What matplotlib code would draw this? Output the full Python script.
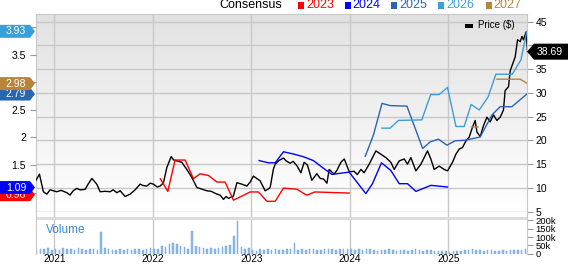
import numpy as np
import matplotlib
matplotlib.use("Agg")
from matplotlib import pyplot as plt
from matplotlib.patches import Polygon, Rectangle

plt.rcParams['font.family'] = ['Liberation Sans', 'DejaVu Sans']

# ---- data (fractional years) ----
price_t = [2020.804, 2020.848, 2020.888, 2020.923, 2020.956, 2021.024, 2021.068, 2021.126, 2021.159, 2021.19,
           2021.227, 2021.261, 2021.312, 2021.342, 2021.380, 2021.430, 2021.464, 2021.515, 2021.565, 2021.596,
           2021.634, 2021.667, 2021.718, 2021.768, 2021.819, 2021.870, 2021.90, 2021.938, 2021.972, 2022.005,
           2022.043, 2022.073, 2022.107, 2022.141, 2022.185, 2022.21, 2022.243, 2022.293, 2022.344, 2022.395,
           2022.446, 2022.489, 2022.547, 2022.591, 2022.649, 2022.682, 2022.716, 2022.743, 2022.767, 2022.817,
           2022.852, 2022.902, 2022.953, 2022.986, 2023.020, 2023.053, 2023.088, 2023.139, 2023.173, 2023.190,
           2023.223, 2023.241, 2023.28, 2023.325, 2023.352, 2023.393, 2023.423, 2023.461, 2023.502, 2023.535,
           2023.569, 2023.613, 2023.664, 2023.698, 2023.731, 2023.766, 2023.789, 2023.840, 2023.87, 2023.908,
           2023.942, 2023.993, 2024.043, 2024.074, 2024.111, 2024.144, 2024.195, 2024.263, 2024.314, 2024.364,
           2024.415, 2024.449, 2024.500, 2024.551, 2024.584, 2024.618, 2024.669, 2024.720, 2024.753, 2024.787,
           2024.821, 2024.855, 2024.905, 2024.956, 2024.990, 2025.041, 2025.075, 2025.109, 2025.142, 2025.177,
           2025.210, 2025.244, 2025.271, 2025.288, 2025.322, 2025.355, 2025.390, 2025.423, 2025.457, 2025.491,
           2025.525, 2025.558, 2025.575, 2025.609, 2025.627, 2025.677, 2025.701, 2025.728, 2025.746, 2025.762,
           2025.789, 2025.802]
price = [11.3, 12.9, 9.2, 8.7, 9.6, 9.2, 9.5, 9.0, 8.5, 9.4,
         9.9, 9.6, 9.7, 10.8, 12.0, 10.8, 9.2, 9.3, 9.2, 9.6,
         9.0, 9.4, 8.2, 8.7, 9.6, 10.8, 10.5, 10.4, 11.0, 10.8,
         10.2, 10.4, 11.1, 14.3, 16.6, 15.9, 15.7, 15.4, 13.9, 12.2,
         10.1, 9.8, 9.4, 9.3, 8.7, 8.5, 7.6, 8.2, 7.8, 8.3,
         11.1, 10.8, 10.4, 11.2, 12.5, 12.0, 11.5, 9.4, 9.8, 10.1,
         14.0, 15.0, 15.8, 16.3, 15.7, 15.2, 15.6, 14.7, 13.2, 15.4,
         14.8, 11.6, 13.0, 12.0, 11.9, 11.0, 13.9, 12.9, 13.8, 15.4,
         16.1, 13.4, 13.5, 12.8, 13.9, 13.2, 15.0, 17.8, 17.1, 16.4,
         15.4, 13.9, 15.7, 16.1, 15.0, 16.4, 13.6, 15.0, 16.4, 17.8,
         16.1, 13.9, 14.6, 13.9, 13.6, 15.4, 17.1, 18.2, 18.5, 19.9,
         20.7, 22.8, 24.2, 21.8, 20.8, 23.1, 24.9, 23.9, 25.4, 24.2,
         24.9, 26.4, 30.5, 31.3, 34.7, 37.6, 41.2, 40.8, 41.9, 41.2,
         42.9, 38.69]

eps23_t = [2022.075, 2022.151, 2022.225, 2022.327, 2022.411, 2022.479, 2022.563, 2022.649, 2022.733, 2022.817,
           2022.987, 2023.071, 2023.156, 2023.241, 2023.325, 2023.461, 2023.562, 2023.642, 2023.992]
eps23 = [1.25, 1.02, 1.59, 1.59, 1.25, 1.34, 1.31, 1.19, 1.19, 0.86,
         1.01, 1.01, 0.84, 0.84, 1.08, 1.06, 0.95, 1.01, 0.99]

eps24_t = [2023.078, 2023.173, 2023.241, 2023.325, 2023.426, 2023.528, 2023.629, 2023.731, 2023.816, 2023.992,
           2024.161, 2024.228, 2024.320, 2024.415, 2024.500, 2024.584, 2024.669, 2024.821, 2024.990]
eps24 = [1.58, 1.54, 1.54, 1.74, 1.70, 1.65, 1.58, 1.44, 1.33, 1.37,
         0.98, 1.16, 1.54, 1.40, 1.16, 1.16, 1.02, 1.13, 1.10]

eps25_t = [2024.156, 2024.239, 2024.325, 2024.408, 2024.578, 2024.738, 2024.814, 2024.898, 2024.984, 2025.068,
           2025.170, 2025.322, 2025.441, 2025.525, 2025.644, 2025.796]
eps25 = [1.66, 2.05, 2.62, 2.58, 2.57, 1.80, 1.92, 1.97, 1.86, 1.94,
         1.95, 2.01, 2.41, 2.56, 2.56, 2.79]

eps26_t = [2024.325, 2024.408, 2024.492, 2024.729, 2024.819, 2024.906, 2024.990, 2025.076, 2025.159, 2025.230,
           2025.312, 2025.403, 2025.481, 2025.647, 2025.735, 2025.796]
eps26 = [2.17, 2.17, 2.31, 2.32, 2.78, 2.78, 2.91, 2.20, 2.20, 2.60,
         2.50, 2.74, 3.15, 3.15, 3.41, 3.93]

eps27_t = [2025.233, 2025.300, 2025.301, 2025.491, 2025.728, 2025.802]
eps27 = [2.19, 2.19, np.nan, 3.06, 3.06, 2.98]

# volume in thousands, every two weeks
vol_start = 2020.82
vol = [22, 28, 30, 35, 25,
       28, 22, 35, 26, 30, 24, 33, 28, 22, 30, 26, 24, 128, 32, 26, 24, 22, 28, 24, 26, 22, 28, 30, 24, 30, 34,
       26, 30, 44, 42, 56, 62, 58, 48, 38, 30, 136, 48, 38, 32, 30, 34, 28, 32, 40, 46, 52, 106, 198, 40, 28, 32,
       24, 18, 26, 22, 28, 20, 30, 24, 22, 28, 26, 62, 24, 28, 22, 26, 30, 24, 22, 28, 26, 30, 24, 28, 26, 30,
       28, 24, 30, 22, 26, 30, 22, 18, 24, 20, 26, 22, 18, 24, 20, 16, 22, 26, 20, 18, 22, 20, 18, 16, 18, 16,
       10, 14, 16, 18, 20, 24, 28, 22, 20, 18, 22, 20, 16, 18, 20, 18, 22, 20, 24, 22, 26]
vol_t = vol_start + np.arange(len(vol)) / 26.0

years = [2021, 2022, 2023, 2024, 2025]
legend_years = ["2023", "2024", "2025", "2026", "2027"]
colors = ["#ff0000", "#0000ff", "#2a64b4", "#3a9fd6", "#b8843a"]
last_eps = ["0.96", "1.09", "2.79", "3.93", "2.98"]
last_price = "38.69"

# ---- layout ----
W, H = 568, 264
fig = plt.figure(figsize=(W / 100, H / 100), dpi=100)


def fx(px):
    return px / W


def fy(py):
    return 1 - py / H


L, R = 35.7, 527.3
ax = fig.add_axes([fx(L), fy(211.7), fx(R) - fx(L), fy(14) - fy(211.7)])
axv = fig.add_axes([fx(L), fy(253.7), fx(R) - fx(L), fy(211.7) - fy(253.7)])
xlim = (2020.81, 2025.80)

# gradient background
grad = np.linspace(0.885, 1.0, 200)[:, None, None] * np.ones((1, 1, 3))
ax.imshow(grad, extent=[0, 1, 0, 1], transform=ax.transAxes, aspect='auto', zorder=0)

grid_c = "#c8c8c8"
ax.set_xlim(xlim)
ax.set_ylim(5, 46.62)
ax.set_xticks(years)
ax.set_xticklabels([])
ax.set_yticks([5, 10, 15, 20, 25, 30, 35, 40, 45])
# "40" sits under the price tag in the original
ax.set_yticklabels(["5", "10", "15", "20", "25", "30", "35", "", "45"])
ax.grid(True, color=grid_c, lw=1)
ax.set_axisbelow(True)
for s in ax.spines.values():
    s.set_color(grid_c)
ax.plot(price_t, price, color='black', lw=1.0, zorder=3)

axe = ax.twinx()
axe.set_ylim(0.651, 4.245)
axe.set_xlim(xlim)
axe.set_yticks([1, 1.5, 2, 2.5, 3, 3.5, 4])
# 1, 3 and 4 are covered by the value tags
axe.set_yticklabels(["", "1.5", "2", "2.5", "", "3.5", ""])
for s in axe.spines.values():
    s.set_visible(False)
for tt, vv, c in zip([eps23_t, eps24_t, eps25_t, eps26_t, eps27_t],
                     [eps23, eps24, eps25, eps26, eps27], colors):
    axe.plot(tt, vv, color=c, lw=1.0)

# price ticks on the right, EPS ticks on the left
ax.yaxis.tick_right()
axe.yaxis.tick_left()
ax.tick_params(axis='x', length=0)
ax.tick_params(axis='y', length=4, width=0.8, color='#999999', labelsize=7.5, pad=2)
axe.tick_params(axis='y', length=4, width=0.8, color='#999999', labelsize=7.5, pad=3)

# volume panel
axv.bar(vol_t, np.array(vol) * 1000, width=0.016, color='#8fbbe6', edgecolor='#6fa3da', lw=0.3)
axv.set_xlim(xlim)
axv.set_ylim(0, 252000)
axv.set_xticks(years)
axv.set_xticklabels([str(y) for y in years], fontsize=7.2)
axv.grid(True, axis='x', color=grid_c, lw=1)
axv.set_axisbelow(True)
axv.axhline(216000, color='#dcdcdc', lw=2.2)
axv.yaxis.tick_right()
axv.set_yticks([0, 50000, 100000, 150000, 200000])
axv.set_yticklabels(["0", "50k", "100k", "150k", "200k"])
axv.tick_params(axis='y', length=4, width=0.8, color='#999999', labelsize=6.8, pad=2)
axv.tick_params(axis='x', length=0, pad=0.5)
for s in axv.spines.values():
    s.set_color(grid_c)
axv.spines['top'].set_visible(False)
axv.spines['bottom'].set_visible(False)
axv.text(0.02, 0.56, "Volume", transform=axv.transAxes, fontsize=8.5, color='#3a88cc', va='center')

# ---- top legend ----
fig.text(fx(282), fy(5), "Consensus", fontsize=9, ha='right', va='center')
sq_x = [298, 344.5, 391, 438, 485.5]
for xx, lab, c in zip(sq_x, legend_years, colors):
    fig.add_artist(Rectangle((fx(xx), fy(8.5)), 6 / W, 7 / H, transform=fig.transFigure,
                             color=c, lw=0))
    fig.text(fx(xx + 8), fy(5), lab, fontsize=9, color=c, ha='left', va='center')

# Price legend
fig.add_artist(Rectangle((fx(465), fy(27.5)), 8 / W, 4 / H, transform=fig.transFigure, color='black', lw=0))
fig.text(fx(478), fy(25.5), "Price ($)", fontsize=7, ha='left', va='center')

# ---- value tags ----
inv = fig.transFigure.inverted()


def tag_left(val_text, val, c, z):
    yf = inv.transform(axe.transData.transform((xlim[0], float(val))))[1]
    h = 6.5 / H
    pts = [(0, yf - h), (fx(30), yf - h), (fx(35), yf), (fx(30), yf + h), (0, yf + h)]
    fig.add_artist(Polygon(pts, closed=True, transform=fig.transFigure, color=c, lw=0, zorder=z))
    fig.text(fx(16), yf, val_text, fontsize=7.5, color='white', ha='center', va='center', zorder=z + 0.5)


z = 5
for i in [0, 1, 2, 4, 3]:
    tag_left(last_eps[i], last_eps[i], colors[i], z)
    z += 1

yf = inv.transform(ax.transData.transform((xlim[1], float(last_price))))[1]
h = 8 / H
pts = [(fx(527), yf), (fx(534), yf - h), (1, yf - h), (1, yf + h), (fx(534), yf + h)]
fig.add_artist(Polygon(pts, closed=True, transform=fig.transFigure, color='black', lw=0, zorder=5))
fig.text(fx(550), yf, last_price, fontsize=7.5, color='white', ha='center', va='center', zorder=6)

fig.savefig("out.png", dpi=100)
